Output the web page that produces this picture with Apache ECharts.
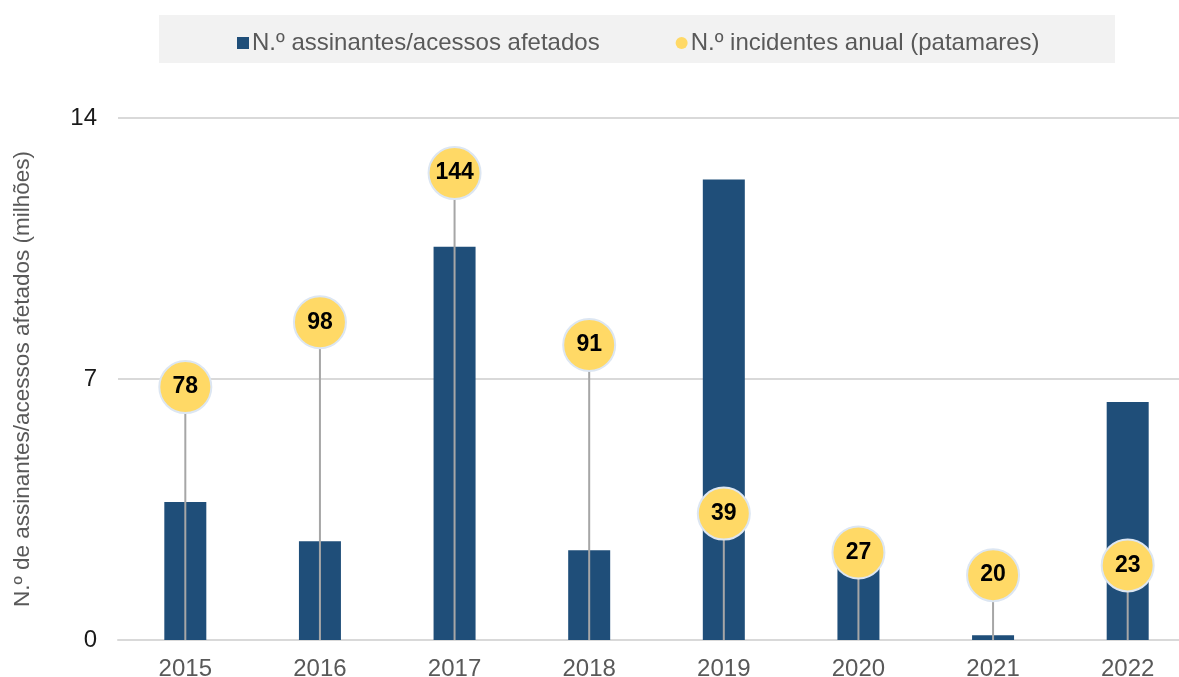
<!DOCTYPE html>
<html>
<head>
<meta charset="utf-8">
<script src="https://cdn.jsdelivr.net/npm/echarts@6/dist/echarts.min.js"></script>
<style>
  html, body { margin: 0; padding: 0; background: #ffffff; }
  #chart { width: 1179px; height: 677px; }
</style>
</head>
<body>
<div id="chart"></div>
<script>
// Anos
const years = ['2015', '2016', '2017', '2018', '2019', '2020', '2021', '2022'];
// N.º de assinantes/acessos afetados (milhões)
const subscribers = [3.70, 2.65, 10.55, 2.41, 12.35, 2.2, 0.13, 6.38];
// N.º de incidentes por ano
const incidents = [78, 98, 144, 91, 39, 27, 20, 23];
// Marcas do eixo principal
const yTicks = [0, 7, 14];

const FONT = '"Liberation Sans", Arial, sans-serif';
const BAR_NAME = 'N.º assinantes/acessos afetados';
const DOT_NAME = 'N.º incidentes anual (patamares)';

const chart = echarts.init(document.getElementById('chart'), null, { renderer: 'canvas' });

const option = {
  animation: false,
  backgroundColor: '#ffffff',
  textStyle: { fontFamily: FONT },
  graphic: [{
    type: 'rect',
    left: 159, top: 15,
    shape: { width: 956, height: 48 },
    style: { fill: '#f2f2f2' },
    z: -10
  }],
  legend: {
    left: 232, top: 26,
    itemWidth: 12, itemHeight: 12,
    itemGap: 76,
    textStyle: { fontFamily: FONT, fontSize: 24, color: '#595959', padding: [0, 0, 0, -2] },
    data: [
      { name: BAR_NAME, icon: 'rect' },
      { name: DOT_NAME, icon: 'circle', itemStyle: { borderWidth: 0 } }
    ]
  },
  // the plot area runs a little past the right edge of the canvas
  grid: {
    left: 118, width: 1077, top: 118, bottom: 37,
    containLabel: false,
    outerBoundsMode: 'none'
  },
  xAxis: {
    type: 'category',
    data: years,
    axisLine: { lineStyle: { color: '#d9d9d9', width: 2 } },
    axisTick: { show: false },
    axisLabel: { fontFamily: FONT, fontSize: 24, color: '#595959', margin: 17 }
  },
  yAxis: [{
    type: 'value',
    min: yTicks[0], max: yTicks[yTicks.length - 1], interval: yTicks[1] - yTicks[0],
    name: 'N.º de assinantes/acessos afetados (milhões)',
    nameLocation: 'middle',
    nameGap: 84,
    nameRotate: 90,
    nameTextStyle: { fontFamily: FONT, fontSize: 22.5, color: '#595959' },
    axisLine: { show: false },
    axisTick: { show: false },
    axisLabel: { fontFamily: FONT, fontSize: 24, color: '#1a1a1a', margin: 21 },
    splitLine: { lineStyle: { color: '#d9d9d9', width: 2 } }
  }, {
    // eixo secundário (oculto) para os incidentes
    type: 'value',
    min: 0, max: 161,
    show: false,
    splitLine: { show: false }
  }],
  series: [{
    name: BAR_NAME,
    type: 'bar',
    data: subscribers,
    barWidth: 42,
    itemStyle: { color: '#1f4e79' },
    z: 2
  }, {
    name: 'linhas',
    type: 'custom',
    yAxisIndex: 1,
    data: incidents.map((v, i) => [i, v]),
    renderItem: function (params, api) {
      const top = api.coord([api.value(0), api.value(1)]);
      const base = api.coord([api.value(0), 0]);
      return {
        type: 'line',
        shape: { x1: top[0], y1: top[1], x2: base[0], y2: base[1] },
        style: { stroke: '#a6a6a6', lineWidth: 2 }
      };
    },
    silent: true,
    z: 3
  }, {
    name: DOT_NAME,
    type: 'scatter',
    yAxisIndex: 1,
    data: incidents,
    symbol: 'circle',
    symbolSize: 52,
    itemStyle: { color: '#ffd966', borderColor: '#dce6f2', borderWidth: 2, opacity: 1 },
    label: {
      show: true,
      position: 'inside',
      fontFamily: FONT,
      fontSize: 23,
      fontWeight: 'bold',
      color: '#000000'
    },
    z: 4
  }]
};

chart.setOption(option);
</script>
</body>
</html>
